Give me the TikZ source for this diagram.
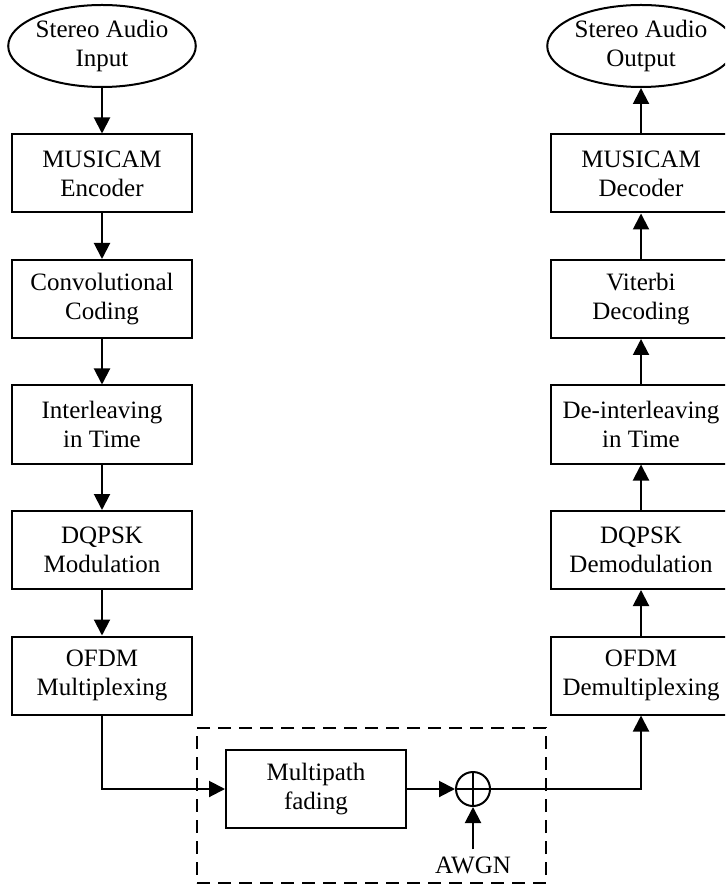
\documentclass[tikz,border=0pt]{standalone}
\usepackage{fontspec}
\setmainfont{Liberation Serif}
\usepackage{tikz}
\usetikzlibrary{shapes,arrows.meta,positioning,calc}

\begin{document}
\begin{tikzpicture}[
    x=0.5pt, y=-0.5pt,
    node distance=22.75pt,
    font=\fontsize{12.5}{14.5}\selectfont,
    block/.style={rectangle, draw, line width=1pt, minimum width=90pt, minimum height=39pt, align=center, inner sep=0pt},
    terminal/.style={ellipse, draw, line width=1pt, minimum width=91.5pt, minimum height=41pt, align=center, inner sep=0pt},
    adder/.style={circle, draw, line width=1pt, minimum size=17pt, inner sep=0pt},
    channel/.style={rectangle, draw, dash pattern=on 6.5pt off 4pt, line width=1pt, minimum width=174.5pt, minimum height=77.5pt, inner sep=0pt},
    arrow/.style={-{Triangle[length=8pt,width=8pt]}, line width=1pt}
]
\useasboundingbox (0,0) rectangle (725,886);
\clip (0,0) rectangle (725,886);

% Transmitter chain
\node[terminal] (input) at (102,46) {Stereo Audio\\Input};
\node[block, below=of input] (encoder) {MUSICAM\\Encoder};
\node[block, below=of encoder] (convcode) {Convolutional\\Coding};
\node[block, below=of convcode] (interleave) {Interleaving\\in Time};
\node[block, below=of interleave] (modulate) {DQPSK\\Modulation};
\node[block, below=of modulate] (mux) {OFDM\\Multiplexing};

% Receiver chain
\node[terminal] (output) at (641,46) {Stereo Audio\\Output};
\node[block, below=of output] (decoder) {MUSICAM\\Decoder};
\node[block, below=of decoder] (viterbi) {Viterbi\\Decoding};
\node[block, below=of viterbi] (deinterleave) {De-interleaving\\in Time};
\node[block, below=of deinterleave] (demodulate) {DQPSK\\Demodulation};
\node[block, below=of demodulate] (demux) {OFDM\\Demultiplexing};

% Channel
\node[channel] (chan) at (371.5,805.5) {};
\node[block] (fading) at (316,789) {Multipath\\fading};
\node[adder] (sum) at (473,789) {};
\draw[line width=1pt] (sum.north) -- (sum.south) (sum.west) -- (sum.east);
\node (awgn) at (473,865) {AWGN};

% Arrows - transmitter
\draw[arrow] (input) -- (encoder);
\draw[arrow] (encoder) -- (convcode);
\draw[arrow] (convcode) -- (interleave);
\draw[arrow] (interleave) -- (modulate);
\draw[arrow] (modulate) -- (mux);

% Arrows - channel
\draw[arrow] (mux.south) |- (fading.west);
\draw[arrow] (fading) -- (sum);
\draw[arrow] (awgn) -- (sum);
\draw[arrow] (sum.east) -| (demux.south);

% Arrows - receiver
\draw[arrow] (demux) -- (demodulate);
\draw[arrow] (demodulate) -- (deinterleave);
\draw[arrow] (deinterleave) -- (viterbi);
\draw[arrow] (viterbi) -- (decoder);
\draw[arrow] (decoder) -- (output);

\end{tikzpicture}
\end{document}
